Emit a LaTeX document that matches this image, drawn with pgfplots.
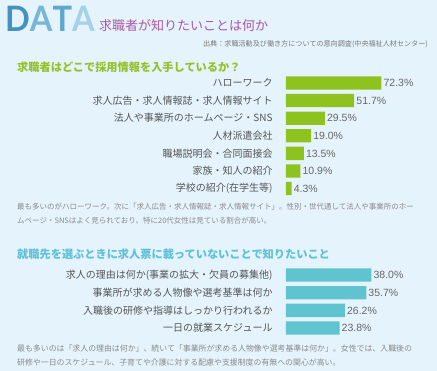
\documentclass[border=0pt]{standalone}
\usepackage{pgfplots}
\pgfplotsset{compat=1.18}
\usepackage{fontspec}
\setmainfont{Noto Sans CJK JP}
\newfontfamily\latinfont{Liberation Sans}
\newfontfamily\datafont{Lato}
\definecolor{bgc}{HTML}{E5F3FC}
\definecolor{greenbar}{HTML}{8DC21F}
\definecolor{greenhead}{HTML}{95C12A}
\definecolor{cyanbar}{HTML}{60C4D0}
\definecolor{cyanhead}{HTML}{5EC1D7}
\definecolor{purp}{HTML}{AA58A5}
\definecolor{lab}{HTML}{555555}
\definecolor{val}{HTML}{666666}
\definecolor{para}{HTML}{8A8A8A}
\definecolor{srcc}{HTML}{7A7A7A}
\definecolor{dA}{HTML}{4592C0}
\definecolor{dB}{HTML}{78B5D6}
\definecolor{dC}{HTML}{5FA7CE}
\definecolor{dD}{HTML}{A3D2E9}
\pgfplotsset{mybar/.style={
  xbar, scale only axis, width=132pt, xmin=0, y dir=reverse,
  axis line style={draw=none}, tick style={draw=none},
  xtick=\empty, ytick=data, enlargelimits=false, clip=false,
  yticklabel style={font=\fontsize{10}{12}\selectfont, text=lab, inner sep=0pt, anchor=east, xshift=-9pt},
  point meta=x,
  nodes near coords={\latinfont\pgfmathprintnumber[fixed,fixed zerofill,precision=1,assume math mode=true]{\pgfplotspointmeta}\%},
  nodes near coords style={font=\fontsize{10.5}{12}\selectfont, text=val, anchor=west, inner sep=2pt},
}}
\begin{document}
\begin{tikzpicture}
\fill[bgc] (0,0) rectangle (437pt,-371pt);
\path[use as bounding box] (0,0) rectangle (437pt,-371pt);
% title
\node[anchor=base west, inner sep=0pt, xscale=0.93] at (5pt,-32pt) {\datafont\bfseries\fontsize{35}{36}\selectfont\textcolor{dA}{D}\textcolor{dB}{A}\textcolor{dC}{T}\textcolor{dD}{A}};
\node[anchor=west, inner sep=0pt, text=purp] at (99pt,-25.5pt) {\fontsize{13}{15}\selectfont 求職者が知りたいことは何か};
\node[anchor=east, inner sep=0pt, text=srcc] at (428pt,-44pt) {\fontsize{7.1}{8}\selectfont 出典：求職活動及び働き方についての意向調査(中央福祉人材センター)};
% section 1
\node[anchor=west, inner sep=0pt, text=greenhead] at (17pt,-67.3pt) {\fontsize{11.2}{13}\selectfont\bfseries 求職者はどこで採用情報を入手しているか？};
\begin{axis}[mybar, at={(286pt,-74.2pt)}, anchor=north west,
  height=123.2pt, xmax=100, ymin=-0.5, ymax=6.5, bar width=13.3pt,
  yticklabels={ハローワーク,求人広告・求人情報誌・求人情報サイト,法人や事業所のホームページ・SNS,人材派遣会社,職場説明会・合同面接会,家族・知人の紹介,学校の紹介(在学生等)}]
\addplot[fill=greenbar, draw=none] coordinates {(72.3,0) (51.7,1) (29.5,2) (19.0,3) (13.5,4) (10.9,5) (4.3,6)};
\end{axis}
\node[anchor=west, inner sep=0pt, text=para] at (17pt,-207pt) {\fontsize{7.5}{9}\selectfont 最も多いのがハローワーク。次に「求人広告・求人情報誌・求人情報サイト」。性別・世代通して法人や事業所のホー};
\node[anchor=west, inner sep=0pt, text=para] at (17pt,-221pt) {\fontsize{7.5}{9}\selectfont ムページ・SNSはよく見られており、特に20代女性は見ている割合が高い。};
% section 2
\node[anchor=west, inner sep=0pt, text=cyanhead] at (17pt,-254pt) {\fontsize{11.2}{13}\selectfont\bfseries 就職先を選ぶときに求人票に載っていないことで知りたいこと};
\begin{axis}[mybar, at={(286pt,-266.15pt)}, anchor=north west,
  height=70.8pt, xmax=58.7, ymin=-0.5, ymax=3.5, bar width=13.3pt,
  yticklabels={求人の理由は何か(事業の拡大・欠員の募集他),事業所が求める人物像や選考基準は何か,入職後の研修や指導はしっかり行われるか,一日の就業スケジュール}]
\addplot[fill=cyanbar, draw=none] coordinates {(38.0,0) (35.7,1) (26.2,2) (23.8,3)};
\end{axis}
\node[anchor=west, inner sep=0pt, text=para] at (17pt,-349pt) {\fontsize{7.9}{9}\selectfont 最も多いのは「求人の理由は何か」、続いて「事業所が求める人物像や選考基準は何か」。女性では、入職後の};
\node[anchor=west, inner sep=0pt, text=para] at (17pt,-362.7pt) {\fontsize{7.9}{9}\selectfont 研修や一日のスケジュール、子育てや介護に対する配慮や支援制度の有無への関心が高い。};
\end{tikzpicture}
\end{document}
